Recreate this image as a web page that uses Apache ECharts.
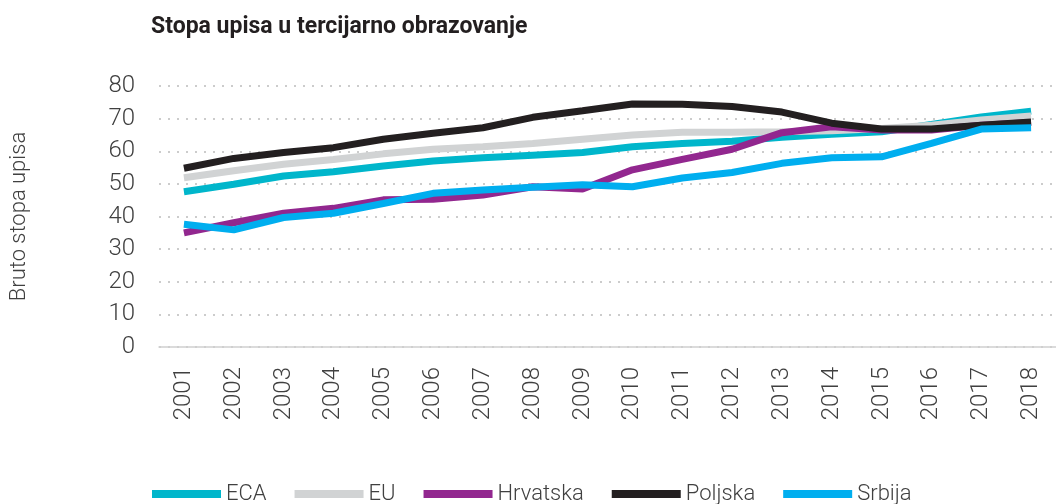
<!DOCTYPE html>
<html lang="sr">
<head>
  <meta charset="UTF-8">
  <title>Stopa upisa u tercijarno obrazovanje</title>
  <script src="https://cdn.jsdelivr.net/npm/echarts@6.0.0/dist/echarts.min.js"></script>
  <style>
    * { margin: 0; padding: 0; box-sizing: border-box; }
    body { background: #fff; }
    #chart { width: 1056px; height: 504px; }
  </style>
</head>
<body>
  <div id="chart"></div>
  <script>
    // godine (x osa)
    const years = ['2001', '2002', '2003', '2004', '2005', '2006', '2007', '2008', '2009',
                   '2010', '2011', '2012', '2013', '2014', '2015', '2016', '2017', '2018'];

    // bruto stopa upisa, procitano sa slike
    const eca      = [47.6, 49.9, 52.4, 53.7, 55.5, 57.0, 58.0, 58.8, 59.6, 61.4, 62.4, 63.1, 64.3, 65.2, 66.0, 68.2, 70.5, 72.3];
    const eu       = [51.9, 54.0, 56.0, 57.5, 59.2, 60.6, 61.4, 62.4, 63.7, 65.0, 65.8, 65.8, 66.0, 66.3, 67.0, 68.0, 69.6, 70.8];
    const hrvatska = [35.0, 38.1, 41.0, 42.5, 45.1, 45.3, 46.6, 49.1, 48.4, 54.3, 57.5, 60.6, 65.7, 67.5, 66.5, 66.5, 68.0, 68.8];
    const poljska  = [54.8, 57.8, 59.6, 61.1, 63.7, 65.5, 67.2, 70.4, 72.4, 74.5, 74.4, 73.7, 72.0, 68.6, 66.8, 66.8, 68.0, 69.0];
    const srbija   = [37.6, 35.9, 39.7, 41.0, 44.0, 47.1, 48.1, 49.0, 49.7, 49.1, 51.8, 53.5, 56.3, 58.0, 58.3, 62.4, 66.8, 67.2];

    const seriesNames = ['ECA', 'EU', 'Hrvatska', 'Poljska', 'Srbija'];
    const seriesData = [eca, eu, hrvatska, poljska, srbija];
    const colors = ['#00b6cb', '#d1d3d4', '#92278f', '#231f20', '#00aeef'];

    const font = 'Roboto, "Noto Sans", sans-serif';

    const chart = echarts.init(document.getElementById('chart'));

    const option = {
      animation: false,
      color: colors,
      title: {
        text: 'Stopa upisa u tercijarno obrazovanje',
        left: 146,
        top: 11,
        textStyle: {
          fontFamily: font,
          fontWeight: 'bold',
          fontSize: 23,
          color: '#231f20'
        }
      },
      legend: {
        data: seriesNames,
        left: 147,
        top: 478,
        icon: 'rect',
        itemWidth: 69,
        itemHeight: 8,
        itemGap: 28,
        textStyle: { fontFamily: font, fontWeight: 300, fontSize: 22, color: '#404040' }
      },
      grid: {
        left: 151,
        top: 86,
        width: 911,
        height: 261
      },
      xAxis: {
        type: 'category',
        data: years,
        boundaryGap: true,
        axisLine: { lineStyle: { color: '#cfcfcf', width: 1.5 } },
        axisTick: { show: false },
        axisLabel: {
          rotate: 90,
          margin: 20,
          interval: 0,
          fontFamily: font,
          fontWeight: 300,
          fontSize: 24,
          color: '#404040'
        }
      },
      yAxis: {
        type: 'value',
        min: 0,
        max: 80,
        interval: 10,
        name: 'Bruto stopa upisa',
        nameLocation: 'middle',
        nameGap: 129,
        nameTextStyle: { fontFamily: font, fontWeight: 300, fontSize: 22, color: '#404040' },
        axisLine: { show: false },
        axisTick: { show: false },
        axisLabel: {
          margin: 24,
          fontFamily: font,
          fontWeight: 300,
          fontSize: 24,
          color: '#404040'
        },
        splitLine: {
          lineStyle: { color: '#cccccc', width: 2, type: [2, 7] }
        }
      },
      series: seriesNames.map((name, i) => ({
        name,
        type: 'line',
        data: seriesData[i],
        symbol: 'none',
        smooth: false,
        lineStyle: { width: 7, color: colors[i] }
      }))
    };

    chart.setOption(option);
  </script>
</body>
</html>
